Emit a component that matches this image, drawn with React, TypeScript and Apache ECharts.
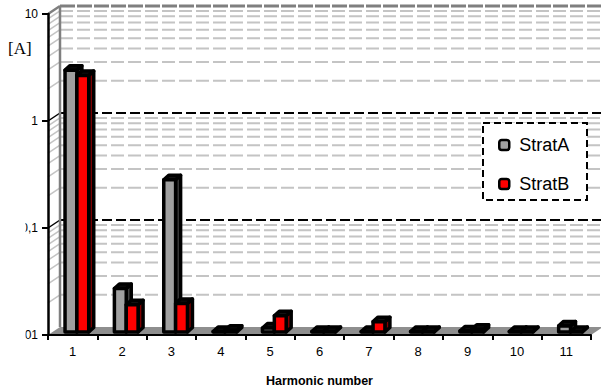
import React, { useEffect, useRef } from 'react';
import * as echarts from 'echarts';

// Harmonic currents per harmonic order, in amperes
const harmonics = ['1', '2', '3', '4', '5', '6', '7', '8', '9', '10', '11'];
const stratA = [2.8, 0.0255, 0.265, 0.0101, 0.0109, 0.0101, 0.0101, 0.0101, 0.0102, 0.0101, 0.0114];
const stratB = [2.5, 0.018, 0.0185, 0.0104, 0.0142, 0.0101, 0.0125, 0.0101, 0.0106, 0.0101, 0.0101];
const seriesNames = ['StratA', 'StratB'];

const yMin = 0.01;
const yMax = 10;
const majorDecades = [0.01, 0.1, 1];
const tickLabels: Record<string, string> = { '0.01': '0,01', '0.1': '0,1', '1': '1', '10': '10' };

// pseudo-3D geometry
const WALL_DX = 12;
const WALL_DY = -8;
const BAR_DX = 5;
const BAR_DY = -4.5;
const BAR_LIFT = -3;

const FONT = "'Liberation Sans', Arial, sans-serif";

function wallRenderer(params: any, api: any) {
  const cs = params.coordSys;
  const x0 = cs.x;
  const x1 = cs.x + cs.width;
  const yOf = (v: number) => api.coord([0, v])[1];
  const yBase = yOf(yMin);
  const yTop = yOf(yMax);
  const children: any[] = [];

  // floor
  children.push({
    type: 'polygon',
    shape: { points: [[x0, yBase], [x0 + WALL_DX, yBase + WALL_DY], [x1 + WALL_DX, yBase + WALL_DY], [x1, yBase]] },
    style: { fill: '#8e8e8e' },
  });

  const addLine = (v: number, stroke: string, width: number, dash: number[]) => {
    const y = yOf(v);
    children.push({
      type: 'line',
      shape: { x1: x0 + WALL_DX, y1: y + WALL_DY, x2: x1 + WALL_DX + 4, y2: y + WALL_DY },
      style: { stroke, lineWidth: width, lineDash: dash },
    });
    children.push({
      type: 'line',
      shape: { x1: x0, y1: y, x2: x0 + WALL_DX, y2: y + WALL_DY },
      style: { stroke, lineWidth: width === 3 ? 2.5 : 1.5 },
    });
  };

  // minor lines 2..9 per decade
  majorDecades.forEach((d) => {
    for (let m = 2; m <= 9; m++) addLine(d * m, '#c4c4c4', 2, [13, 4]);
  });
  // major lines
  addLine(0.1, '#000', 2, [10, 4]);
  addLine(1, '#000', 2, [10, 4]);
  addLine(10, '#7f7f7f', 3, [15, 2]);

  // left edge of the back wall
  children.push({
    type: 'line',
    shape: { x1: x0 + WALL_DX, y1: yTop + WALL_DY, x2: x0 + WALL_DX, y2: yBase + WALL_DY },
    style: { stroke: '#7f7f7f', lineWidth: 2.5 },
  });

  return { type: 'group', children };
}

function barRenderer(from: number, to: number, face: string, side: string) {
  return (params: any, api: any) => {
    const cs = params.coordSys;
    const band = cs.width / harmonics.length;
    const i = api.value(0);
    const v = api.value(1);
    const base = api.coord([i, yMin]);
    const topPt = api.coord([i, v]);
    const start = base[0] - band / 2;
    const left = start + from * band;
    const right = start + to * band;
    const yb = base[1] + BAR_LIFT;
    const yt = topPt[1] + BAR_LIFT;
    const stroke = { stroke: '#000', lineWidth: 3.5, lineJoin: 'round' };
    return {
      type: 'group',
      children: [
        {
          type: 'polygon',
          shape: { points: [[right, yb], [right + BAR_DX, yb + BAR_DY], [right + BAR_DX, yt + BAR_DY], [right, yt]] },
          style: { fill: side, ...stroke },
        },
        {
          type: 'polygon',
          shape: { points: [[left, yt], [left + BAR_DX, yt + BAR_DY], [right + BAR_DX, yt + BAR_DY], [right, yt]] },
          style: { fill: '#111', ...stroke },
        },
        {
          type: 'rect',
          shape: { x: left, y: yt, width: right - left, height: Math.max(yb - yt, 0.5) },
          style: { fill: face, ...stroke },
        },
      ],
    };
  };
}

export default function App() {
  const ref = useRef<HTMLDivElement>(null);

  useEffect(() => {
    if (!ref.current) return;
    const chart = echarts.init(ref.current, undefined, { renderer: 'svg' });
    chart.setOption({
      animation: false,
      backgroundColor: '#fff',
      grid: { left: 48, right: 10, top: 14, bottom: 57 },
      xAxis: {
        type: 'category',
        data: harmonics,
        z: 5,
        axisLine: { lineStyle: { color: '#000', width: 2 } },
        axisTick: { show: true, length: 5, lineStyle: { color: '#000', width: 2 } },
        axisLabel: { color: '#000', fontSize: 13, fontFamily: FONT, margin: 10 },
        name: 'Harmonic number',
        nameLocation: 'middle',
        nameGap: 39,
        nameTextStyle: { color: '#000', fontSize: 12.5, fontWeight: 'bold', fontFamily: FONT },
      },
      yAxis: {
        type: 'log',
        logBase: 10,
        min: yMin,
        max: yMax,
        z: 5,
        axisLine: { show: true, lineStyle: { color: '#000', width: 2.5 } },
        axisTick: { show: true, length: 6, lineStyle: { color: '#000', width: 2 } },
        splitLine: { show: false },
        axisLabel: {
          color: '#000',
          fontSize: 12,
          fontFamily: FONT,
          margin: 10,
          formatter: (v: number) => tickLabels[String(+v.toPrecision(3))] ?? String(v),
        },
      },
      legend: {
        orient: 'vertical',
        left: 498,
        top: 135,
        padding: 0,
        z: 6,
        itemWidth: 10,
        itemHeight: 10,
        itemGap: 19,
        icon: 'roundRect',
        data: seriesNames,
        selectedMode: false,
        itemStyle: { borderColor: '#000', borderWidth: 2.5 },
        textStyle: { color: '#000', fontSize: 18, fontFamily: FONT, lineHeight: 20, padding: [0, 0, 0, 5] },
      },
      graphic: [
        {
          type: 'rect',
          z: 4,
          shape: { x: 483, y: 123, width: 104, height: 77 },
          style: { fill: '#fff', stroke: '#000', lineWidth: 2, lineDash: [7, 4] },
        },
        {
          type: 'text',
          left: 8,
          top: 40,
          style: { text: '[A]', fontSize: 17, fontFamily: "'Liberation Serif', 'Times New Roman', serif", fill: '#000' },
        },
        {
          type: 'rect',
          z: 100,
          shape: { x: 0, y: 200, width: 25.5, height: 192 },
          style: { fill: '#fff' },
        },
      ],
      series: [
        {
          type: 'custom',
          name: 'walls',
          z: 1,
          silent: true,
          clip: false,
          renderItem: wallRenderer,
          encode: { x: 0, y: 1 },
          data: [[0, yMin]],
        },
        {
          type: 'custom',
          name: seriesNames[0],
          z: 2,
          clip: false,
          itemStyle: { color: '#a0a0a0' },
          renderItem: barRenderer(0.345, 0.585, '#a0a0a0', '#404040'),
          encode: { x: 0, y: 1 },
          data: stratA.map((v, i) => [i, v]),
        },
        {
          type: 'custom',
          name: seriesNames[1],
          z: 2,
          clip: false,
          itemStyle: { color: '#ff0000' },
          renderItem: barRenderer(0.585, 0.825, '#ff0000', '#800000'),
          encode: { x: 0, y: 1 },
          data: stratB.map((v, i) => [i, v]),
        },
      ],
    });
    return () => chart.dispose();
  }, []);

  return (
    <div
      ref={ref}
      style={{ position: 'fixed', left: 0, top: 0, width: 601, height: 392, background: '#fff' }}
    />
  );
}
